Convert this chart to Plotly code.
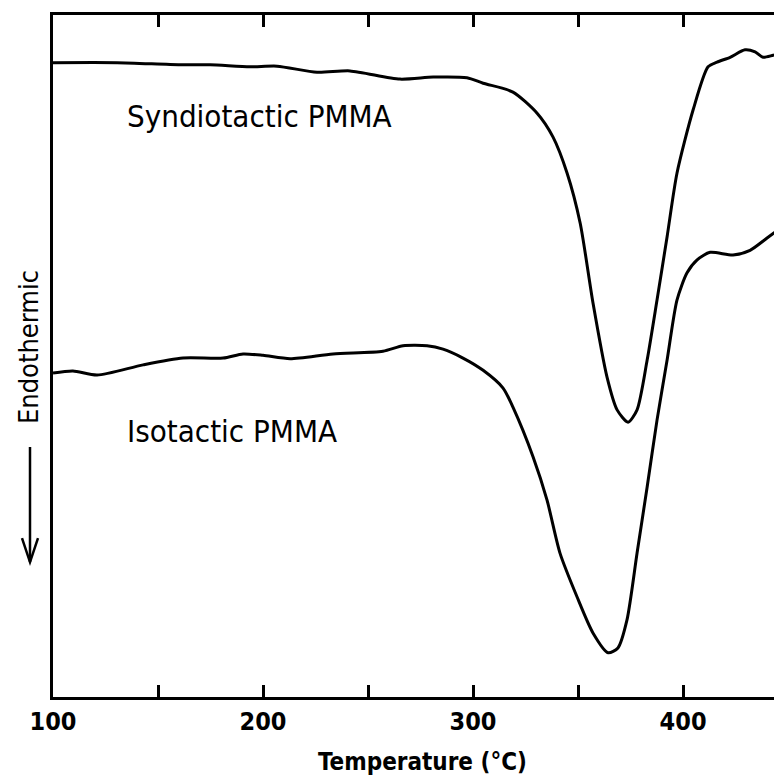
import plotly.graph_objects as go

# Syndiotactic PMMA trace (temperature in deg C, signal in arbitrary units)
syn_T = [100, 130.5, 160.5, 174.8, 193.8, 206.7, 225.7, 241.4, 265.2, 281.0, 297.1,
         304.8, 319.0, 330.5, 338.1, 344.8, 351.0, 357.1, 363.8, 368.6, 373.8,
         378.1, 382.9, 387.6, 392.4, 397.1, 404.8, 411.9, 416.2, 422.4, 429.5,
         434.3, 438.1, 442.9, 447.1]
syn_y = [93.0, 93.0, 92.7, 92.7, 92.4, 92.5, 91.6, 91.8, 90.6, 90.9, 90.8,
         90.0, 88.7, 85.6, 82.1, 76.8, 69.5, 57.8, 46.9, 42.1, 40.3,
         42.1, 49.4, 58.2, 67.5, 76.8, 86.1, 92.4, 93.1, 93.8, 94.9,
         94.6, 93.8, 94.1, 94.4]

# Isotactic PMMA trace
iso_T = [100, 109.5, 121.0, 142.9, 161.9, 181.0, 190.5, 200.0, 212.9, 233.3, 257.1,
         266.7, 278.1, 285.7, 295.2, 304.8, 314.3, 319.0, 328.6, 335.2, 341.4,
         349.5, 357.1, 364.3, 369.0, 373.3, 378.1, 382.9, 387.6, 392.4, 397.1,
         401.9, 406.7, 412.9, 423.8, 431.9, 440.0, 447.1]
iso_y = [47.5, 47.8, 47.2, 48.7, 49.7, 49.7, 50.3, 50.1, 49.6, 50.3, 50.7,
         51.5, 51.5, 51.0, 49.7, 47.9, 45.3, 42.5, 35.2, 28.9, 21.1,
         14.7, 9.4, 6.5, 7.2, 11.3, 21.1, 30.8, 40.6, 49.4, 58.2,
         62.2, 64.1, 65.2, 64.8, 65.5, 67.3, 68.9]

tick_vals = [100, 150, 200, 250, 300, 350, 400]
tick_text = ["100", "", "200", "", "300", "", "400"]

FONT = "DejaVu Sans Condensed, DejaVu Sans, sans-serif"

fig = go.Figure()
line = dict(color="black", width=3, shape="spline", smoothing=0.7)
fig.add_trace(go.Scatter(x=syn_T, y=syn_y, mode="lines", line=line,
                         name="Syndiotactic PMMA", showlegend=False))
fig.add_trace(go.Scatter(x=iso_T, y=iso_y, mode="lines", line=line,
                         name="Isotactic PMMA", showlegend=False))

fig.update_layout(
    width=766, height=768,
    margin=dict(l=45, r=0, t=7, b=79),
    paper_bgcolor="white", plot_bgcolor="white",
    font=dict(family=FONT, color="black", size=26),
    xaxis=dict(range=[100, 443.3], tickvals=tick_vals, ticktext=tick_text,
               ticks="inside", ticklen=12, tickwidth=2.5, tickcolor="black",
               showline=True, linewidth=3, linecolor="black", mirror="ticks",
               showgrid=False, zeroline=False,
               tickfont=dict(family=FONT, size=25, color="black", weight="bold")),
    yaxis=dict(range=[0, 100], showticklabels=False, ticks="",
               showline=True, linewidth=3, linecolor="black", mirror=False,
               showgrid=False, zeroline=False),
    annotations=[
        dict(text="Syndiotactic PMMA", x=134.3, y=85.2, xref="x", yref="y",
             xanchor="left", yanchor="middle", showarrow=False,
             font=dict(family=FONT, size=31, color="black")),
        dict(text="Isotactic PMMA", x=134.3, y=39.0, xref="x", yref="y",
             xanchor="left", yanchor="middle", showarrow=False,
             font=dict(family=FONT, size=31, color="black")),
        dict(text="Temperature (°C)", x=0.512, y=-0.0953, xref="paper", yref="paper",
             xanchor="center", yanchor="middle", showarrow=False,
             font=dict(family=FONT, size=24, color="black", weight="bold")),
        dict(text="Endothermic", x=-0.0347, y=0.513, xref="paper", yref="paper",
             xanchor="center", yanchor="middle", showarrow=False, textangle=-90,
             font=dict(family=FONT, size=27, color="black")),
    ],
    shapes=[
        # arrow shaft and open head of the "Endothermic" axis label
        dict(type="line", xref="paper", yref="paper", x0=-0.0319, x1=-0.0319,
             y0=0.3666, y1=0.1979, line=dict(color="black", width=2.5)),
        dict(type="path", xref="paper", yref="paper",
             path="M -0.0430 0.2331 L -0.0319 0.1979 L -0.0208 0.2331",
             line=dict(color="black", width=2.5)),
    ],
)

fig.write_html("out.html")
